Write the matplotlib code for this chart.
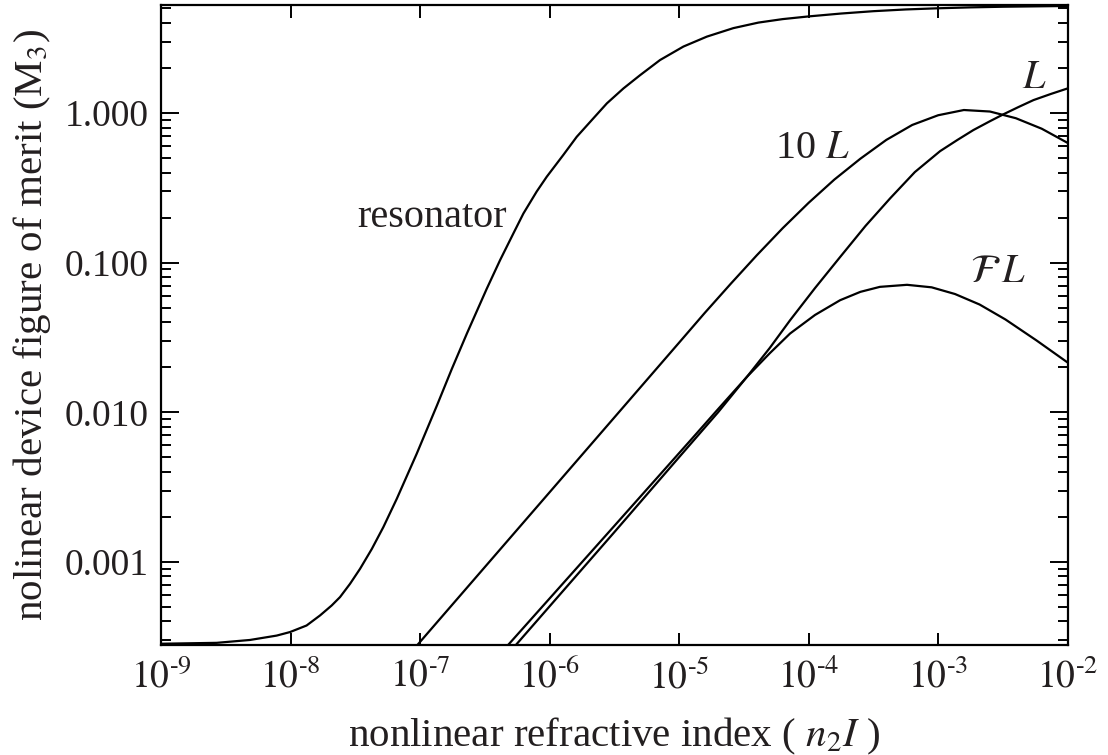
import numpy as np
import matplotlib
matplotlib.use("Agg")
import matplotlib.pyplot as plt
from matplotlib.ticker import LogLocator, FixedLocator, FuncFormatter, NullLocator, NullFormatter

plt.rcParams['font.family'] = ['Liberation Serif', 'DejaVu Serif']
plt.rcParams['mathtext.fontset'] = 'stix'

# nonlinear refractive index n2*I (x) and figure of merit M3 (y) for each device
resonator_x = [1.0e-9, 2.69e-9, 4.86e-9, 7.82e-9, 9.91e-9, 1.33e-8, 1.69e-8, 2.08e-8,
               2.41e-8, 2.88e-8, 3.44e-8, 4.24e-8, 5.21e-8, 6.61e-8, 9.42e-8, 1.35e-7,
               1.76e-7, 2.30e-7, 3.27e-7, 4.15e-7, 5.26e-7, 6.28e-7, 7.96e-7, 9.51e-7,
               1.28e-6, 1.62e-6, 2.18e-6, 2.77e-6, 3.72e-6, 5.0e-6, 7.13e-6, 1.08e-5,
               1.64e-5, 2.62e-5, 4.10e-5, 6.3e-5, 1.0e-4, 1.78e-4, 3.16e-4, 5.62e-4,
               1.0e-3, 1.78e-3, 3.16e-3, 1.0e-2]
resonator_y = [2.84e-4, 2.88e-4, 3.01e-4, 3.22e-4, 3.40e-4, 3.76e-4, 4.39e-4, 5.12e-4,
               5.82e-4, 7.14e-4, 8.99e-4, 1.22e-3, 1.71e-3, 2.64e-3, 5.28e-3, 1.11e-2,
               1.95e-2, 3.36e-2, 6.68e-2, 0.104, 0.157, 0.213, 0.299, 0.375,
               0.526, 0.693, 0.922, 1.16, 1.46, 1.79, 2.26, 2.78,
               3.24, 3.69, 4.02, 4.24, 4.42, 4.62, 4.79, 4.92,
               5.01, 5.08, 5.13, 5.19]

ten_L_x = [9.55e-8, 1.0e-6, 1.0e-5, 1.58e-5, 2.51e-5, 3.98e-5, 6.31e-5, 1.0e-4, 1.58e-4,
           2.51e-4, 3.98e-4, 6.31e-4, 1.0e-3, 1.58e-3, 2.51e-3, 3.98e-3, 6.31e-3, 1.0e-2]
ten_L_y = [2.79e-4, 2.92e-3, 2.92e-2, 4.62e-2, 7.24e-2, 0.112, 0.170, 0.251, 0.359,
           0.495, 0.661, 0.832, 0.966, 1.047, 1.023, 0.923, 0.785, 0.631]

L_x = [5.5e-7, 3.16e-6, 1.0e-5, 2.0e-5, 3.33e-5, 5.01e-5, 7.19e-5, 1.12e-4, 1.75e-4,
       2.75e-4, 4.26e-4, 6.61e-4, 1.035e-3, 1.41e-3, 1.87e-3, 2.51e-3, 3.19e-3,
       4.17e-3, 5.45e-3, 7.41e-3, 1.0e-2]
L_y = [2.79e-4, 1.58e-3, 5.01e-3, 1.0e-2, 1.72e-2, 2.69e-2, 4.12e-2, 6.76e-2, 0.109,
       0.176, 0.269, 0.403, 0.556, 0.661, 0.769, 0.881, 0.980,
       1.096, 1.22, 1.34, 1.46]

FL_x = [4.79e-7, 3.16e-6, 1.26e-5, 2.0e-5, 3.33e-5, 5.01e-5, 7.19e-5, 1.12e-4, 1.75e-4,
        2.51e-4, 3.55e-4, 5.75e-4, 8.91e-4, 1.35e-3, 2.09e-3, 3.31e-3, 5.75e-3, 1.0e-2]
FL_y = [2.79e-4, 1.74e-3, 6.68e-3, 1.05e-2, 1.72e-2, 2.48e-2, 3.36e-2, 4.47e-2, 5.61e-2,
        6.38e-2, 6.89e-2, 7.11e-2, 6.84e-2, 6.17e-2, 5.25e-2, 4.17e-2, 3.02e-2, 2.15e-2]

x_decades = [1e-9, 1e-8, 1e-7, 1e-6, 1e-5, 1e-4, 1e-3, 1e-2]
y_decades = [1e-3, 1e-2, 1e-1, 1e0]

ink = '#231f20'

fig = plt.figure(figsize=(11.08, 7.55), dpi=100)
ax = fig.add_axes([0.1453, 0.1457, 0.8183, 0.8477])

line_kw = dict(color='black', lw=1.6, solid_capstyle='butt', solid_joinstyle='round')
ax.plot(resonator_x, resonator_y, **line_kw)
ax.plot(ten_L_x, ten_L_y, **line_kw)
ax.plot(L_x, L_y, **line_kw)
ax.plot(FL_x, FL_y, **line_kw)

ax.set_xscale('log')
ax.set_yscale('log')
ax.set_xlim(1e-9, 1e-2)
ax.set_ylim(2.786e-4, 5.27)

ax.xaxis.set_major_locator(FixedLocator(x_decades))
ax.xaxis.set_minor_locator(NullLocator())
ax.xaxis.set_major_formatter(FuncFormatter(
    lambda v, p: r'$10^{\text{-%d}}$' % round(-np.log10(v))))

ax.yaxis.set_major_locator(FixedLocator(y_decades))
ax.yaxis.set_minor_locator(LogLocator(base=10, subs=np.arange(2, 10), numticks=20))
ax.yaxis.set_minor_formatter(NullFormatter())
ax.yaxis.set_major_formatter(FuncFormatter(lambda v, p: '%.3f' % v))

ax.tick_params(axis='both', which='both', direction='in', top=True, right=True,
               labelsize=27, width=1.4, color='black', labelcolor=ink)
ax.tick_params(axis='x', which='major', length=9, pad=10)
ax.tick_params(axis='y', which='major', length=13, pad=9)
ax.tick_params(axis='y', which='minor', length=7)
for s in ax.spines.values():
    s.set_linewidth(1.6)

ax.set_xlabel(r'nonlinear refractive index ( $n_2I$ )', fontsize=29.5, labelpad=14,
              color=ink)
ax.set_ylabel(r'nolinear device figure of merit (M$_3$)', fontsize=29.5, labelpad=8,
              color=ink)

lbl_kw = dict(fontsize=29, ha='left', va='baseline', color=ink)
ax.text(3.27e-8, 0.173, 'resonator', **lbl_kw)
ax.text(5.5e-5, 0.5, r'10 $L$', **lbl_kw)
ax.text(4.46e-3, 1.47, r'$L$', **lbl_kw)
ax.text(1.77e-3, 0.074, r'$\mathcal{F}\,L$', **lbl_kw)

fig.savefig('out.png', dpi=100)
